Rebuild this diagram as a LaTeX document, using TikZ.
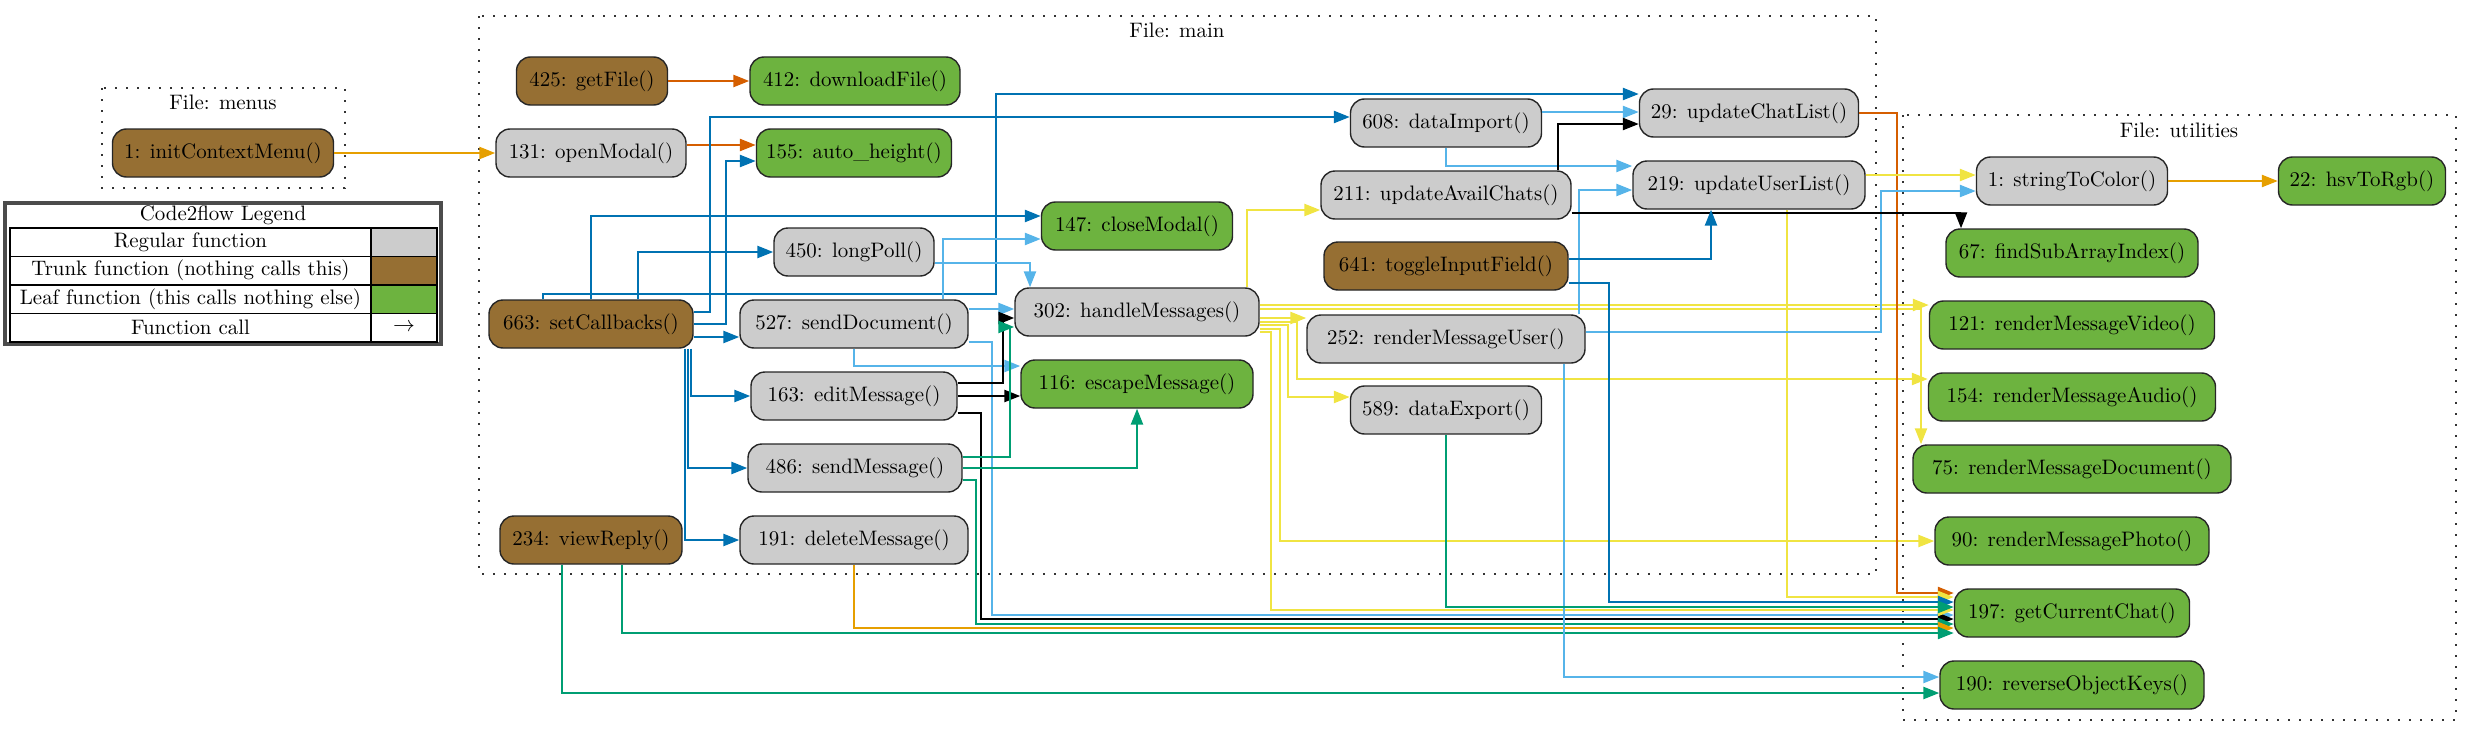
\documentclass[tikz,border=0pt]{standalone}
\usepackage{tikz}
\usepackage{xcolor}
\usetikzlibrary{arrows.meta}
\usetikzlibrary{calc}

\definecolor{fngray}{HTML}{CCCCCC}
\definecolor{trunkbrown}{HTML}{966F33}
\definecolor{leafgreen}{HTML}{6DB33F}
\definecolor{cver}{HTML}{D55E00}
\definecolor{corange}{HTML}{E69F00}
\definecolor{cblue}{HTML}{0072B2}
\definecolor{csky}{HTML}{56B4E9}
\definecolor{cyellow}{HTML}{F0E442}
\definecolor{cgreen}{HTML}{009E73}

\tikzset{
  fnbox/.style={draw=black!85,line width=0.7bp,rounded corners=7bp,
                minimum height=24bp,inner sep=0pt},
  fn/.style={fnbox,fill=fngray},
  trunk/.style={fnbox,fill=trunkbrown},
  leaf/.style={fnbox,fill=leafgreen},
  cluster/.style={draw=black!80,line width=1bp,dash pattern=on 1bp off 4.5bp},
  lgcell/.style={draw=black,line width=0.6bp,minimum height=14.25bp,inner sep=0pt},
  call/.style={line width=1.2bp,-{Triangle[length=8bp,width=6bp]}}
}

\begin{document}
\begin{tikzpicture}[x=0.5bp,y=-0.5bp,every node/.style={font=\fontsize{10.5}{12.6}\selectfont}]
 \useasboundingbox (0,0) rectangle (2472,736);

 \draw[cluster] (102,88) rectangle (345,188);
 \draw (223,102) node (menuslab) {File: menus};
 \draw[cluster] (479,16) rectangle (1876,574);
 \draw (1177,30) node (mainlab) {File: main};
 \draw[cluster] (1903,115) rectangle (2456,720);
 \draw (2179,130) node (utillab) {File: utilities};

 \draw[line width=2bp,draw=black!70] (5,203) rectangle (441,344);
 \draw (223,215) node (lgtitle) {Code2flow Legend};
 \draw (190.5,242.25) node[lgcell,minimum width=180.5bp] (lgreg) {Regular function};
 \draw (404,242.25) node[lgcell,minimum width=33bp,fill=fngray] (lgregkey) {};
 \draw (190.5,270.75) node[lgcell,minimum width=180.5bp] (lgtrunk) {Trunk function (nothing calls this)};
 \draw (404,270.75) node[lgcell,minimum width=33bp,fill=trunkbrown] (lgtrunkkey) {};
 \draw (190.5,299.25) node[lgcell,minimum width=180.5bp] (lgleaf) {Leaf function (this calls nothing else)};
 \draw (404,299.25) node[lgcell,minimum width=33bp,fill=leafgreen] (lgleafkey) {};
 \draw (190.5,327.75) node[lgcell,minimum width=180.5bp] (lgcall) {Function call};
 \draw (404,327.75) node[lgcell,minimum width=33bp] (lgcallkey) {$\rightarrow$};
 \draw[line width=1.4bp] (10,228) rectangle (437,342);

 \draw (223,153) node[trunk,minimum width=110.5bp] (ctx) {1: initContextMenu()};

 \draw (592,81) node[trunk,minimum width=75.5bp] (getfile) {425: getFile()};
 \draw (855,81) node[leaf,minimum width=105bp] (dlfile) {412: downloadFile()};
 \draw (591,153) node[fn,minimum width=95bp] (openmodal) {131: openModal()};
 \draw (854,153) node[leaf,minimum width=97.5bp] (autoh) {155: auto\_height()};
 \draw (1137,226) node[leaf,minimum width=95.5bp] (closemodal) {147: closeModal()};
 \draw (854,252) node[fn,minimum width=80bp] (longpoll) {450: longPoll()};
 \draw (591,324) node[trunk,minimum width=102bp] (setcb) {663: setCallbacks()};
 \draw (854,324) node[fn,minimum width=114bp] (senddoc) {527: sendDocument()};
 \draw (1137,312) node[fn,minimum width=122bp] (handlemsg) {302: handleMessages()};
 \draw (1137,384) node[leaf,minimum width=116bp] (escmsg) {116: escapeMessage()};
 \draw (854,396) node[fn,minimum width=103bp] (editmsg) {163: editMessage()};
 \draw (855,468) node[fn,minimum width=107bp] (sendmsg) {486: sendMessage()};
 \draw (591,540) node[trunk,minimum width=91bp] (viewreply) {234: viewReply()};
 \draw (854,540) node[fn,minimum width=114bp] (delmsg) {191: deleteMessage()};
 \draw (1749,113) node[fn,minimum width=109.5bp] (updchat) {29: updateChatList()};
 \draw (1446,123) node[fn,minimum width=95.5bp] (dataimport) {608: dataImport()};
 \draw (1446,195) node[fn,minimum width=125bp] (updavail) {211: updateAvailChats()};
 \draw (1749,185) node[fn,minimum width=116bp] (upduser) {219: updateUserList()};
 \draw (1446,266) node[trunk,minimum width=122bp] (toggle) {641: toggleInputField()};
 \draw (1446,339) node[fn,minimum width=139bp] (rmuser) {252: renderMessageUser()};
 \draw (1446,410) node[fn,minimum width=95.5bp] (dataexport) {589: dataExport()};

 \draw (2072,181) node[fn,minimum width=95.5bp] (str2col) {1: stringToColor()};
 \draw (2362,181) node[leaf,minimum width=83.5bp] (hsv) {22: hsvToRgb()};
 \draw (2072,253) node[leaf,minimum width=126bp] (findsub) {67: findSubArrayIndex()};
 \draw (2072,325) node[leaf,minimum width=142.5bp] (rmvideo) {121: renderMessageVideo()};
 \draw (2072,397) node[leaf,minimum width=143.5bp] (rmaudio) {154: renderMessageAudio()};
 \draw (2072,469) node[leaf,minimum width=159bp] (rmdoc) {75: renderMessageDocument()};
 \draw (2072,541) node[leaf,minimum width=137bp] (rmphoto) {90: renderMessagePhoto()};
 \draw (2072,613) node[leaf,minimum width=117.5bp] (curchat) {197: getCurrentChat()};
 \draw (2072,685) node[leaf,minimum width=132bp] (revkeys) {190: reverseObjectKeys()};

 \draw[call,corange] (ctx.east) -- (openmodal.west);
 \draw[call,cver] (getfile.east) -- (dlfile.west);
 \draw[call,cver] ($(openmodal.east)+(0,-8)$) -- ($(autoh.west)+(0,-8)$);

 \draw[call,cblue] (setcb.east) -- ++(32,0) |- ($(autoh.west)+(0,8)$);
 \draw[call,cblue] ($(setcb.east)+(0,-12)$) -- ++(16,0) |- ($(dataimport.west)+(0,-6)$);
 \draw[call,cblue] ($(setcb.north)+(-48,0)$) |- (996,294) |- ($(updchat.west)+(0,-19)$);
 \draw[call,cblue] (setcb.north) |- ($(closemodal.west)+(0,-10)$);
 \draw[call,cblue] ($(setcb.north)+(47,0)$) |- (longpoll.west);
 \draw[call,cblue] ($(setcb.east)+(0,13)$) -- ($(senddoc.west)+(0,13)$);
 \draw[call,cblue] ($(setcb.south)+(100,0)$) |- (editmsg.west);
 \draw[call,cblue] ($(setcb.south)+(97,0)$) |- (sendmsg.west);
 \draw[call,cblue] ($(setcb.south)+(94,0)$) |- (delmsg.west);

 \draw[call,csky] ($(senddoc.north)+(89,0)$) |- ($(closemodal.west)+(0,13)$);
 \draw[call,csky] ($(longpoll.east)+(0,11)$) -| ($(handlemsg.north)+(-107,0)$);
 \draw[call,csky] ($(senddoc.east)+(0,-15)$) -- ($(handlemsg.west)+(0,-3)$);
 \draw[call,csky] (senddoc.south) |- ($(escmsg.west)+(0,-18)$);
 \draw[call,csky] ($(senddoc.east)+(0,18)$) -| (992,615) -- ($(curchat.west)+(0,2)$);

 \draw[call] ($(editmsg.east)+(0,-13)$) -| (1003,318) -- ($(handlemsg.west)+(0,6)$);
 \draw[call] (editmsg.east) -- ($(escmsg.west)+(0,12)$);
 \draw[call] ($(editmsg.east)+(0,17)$) -| (981,619) -- ($(curchat.west)+(0,6)$);

 \draw[call,cgreen] ($(sendmsg.east)+(0,-11)$) -| (1010,327) -- ($(handlemsg.west)+(0,15)$);
 \draw[call,cgreen] (sendmsg.east) -| (escmsg.south);
 \draw[call,cgreen] ($(sendmsg.east)+(0,12)$) -| (976,624) -- ($(curchat.west)+(0,11)$);
 \draw[call,corange] (delmsg.south) |- ($(curchat.west)+(0,15)$);
 \draw[call,cgreen] ($(viewreply.south)+(31,0)$) |- ($(curchat.west)+(0,20)$);
 \draw[call,cgreen] ($(viewreply.south)+(-29,0)$) |- ($(revkeys.west)+(0,8)$);

 \draw[call,cyellow] ($(handlemsg.north)+(110,0)$) |- ($(updavail.west)+(0,15)$);
 \draw[call,cyellow] ($(handlemsg.east)+(0,-7)$) -- ($(rmvideo.west)+(0,-20)$);
 \draw[call,cyellow] ($(handlemsg.east)+(0,-3)$) -| ($(rmdoc.north)+(-151,0)$);
 \draw[call,cyellow] ($(handlemsg.east)+(0,6)$) -- ($(rmuser.west)+(0,-21)$);
 \draw[call,cyellow] ($(handlemsg.east)+(0,10)$) -| (1297,379) -- ($(rmaudio.west)+(0,-18)$);
 \draw[call,cyellow] ($(handlemsg.east)+(0,13)$) -| (1288,397) -- ($(dataexport.west)+(0,-13)$);
 \draw[call,cyellow] ($(handlemsg.east)+(0,17)$) -| (1280,541) -- (rmphoto.west);
 \draw[call,cyellow] ($(handlemsg.east)+(0,20)$) -| (1271,610) -- ($(curchat.west)+(0,-3)$);

 \draw[call,cver] (updchat.east) -| (1897,593) -- ($(curchat.west)+(0,-20)$);
 \draw[call,cyellow] ($(upduser.east)+(0,-10)$) -- ($(str2col.west)+(0,-6)$);
 \draw[call,cyellow] ($(upduser.south)+(38,0)$) |- ($(curchat.west)+(0,-16)$);
 \draw[call,csky] ($(rmuser.east)+(0,-7)$) -| (1881,191) -- ($(str2col.west)+(0,10)$);
 \draw[call,csky] ($(rmuser.north)+(133,0)$) |- ($(upduser.west)+(0,5)$);
 \draw[call,csky] ($(rmuser.south)+(118,0)$) |- ($(revkeys.west)+(0,-8)$);
 \draw[call,csky] ($(dataimport.east)+(0,-11)$) -- ($(updchat.west)+(0,-1)$);
 \draw[call,csky] (dataimport.south) |- ($(upduser.west)+(0,-19)$);
 \draw[call] ($(updavail.north)+(112,0)$) |- ($(updchat.west)+(0,11)$);
 \draw[call] ($(updavail.east)+(0,18)$) -| ($(findsub.north)+(-111,0)$);
 \draw[call,cblue] ($(toggle.east)+(0,-7)$) -| ($(upduser.south)+(-38,0)$);
 \draw[call,cblue] ($(toggle.east)+(0,17)$) -| (1609,602) -- ($(curchat.west)+(0,-11)$);
 \draw[call,cgreen] (dataexport.south) |- ($(curchat.west)+(0,-6)$);
 \draw[call,corange] (str2col.east) -- (hsv.west);

\end{tikzpicture}
\end{document}
